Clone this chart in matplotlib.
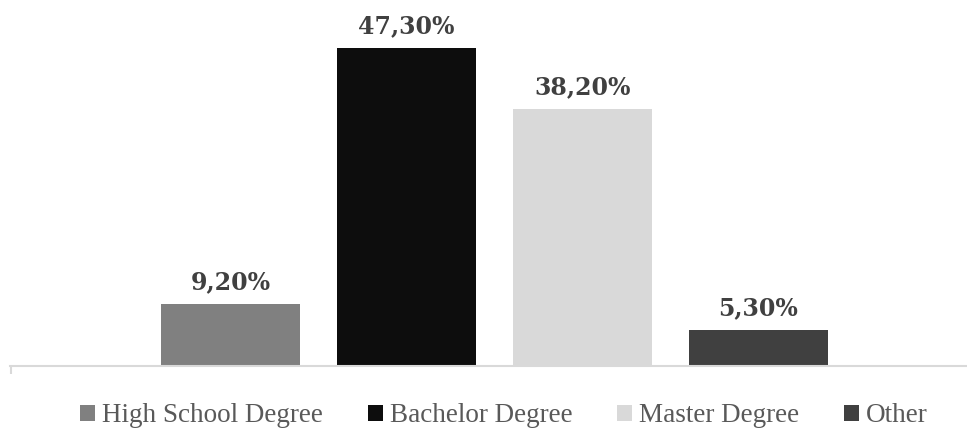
import matplotlib.pyplot as plt

# ── Data ──────────────────────────────────────────────────────────────────────
categories = ["High School Degree", "Bachelor Degree", "Master Degree", "Other"]
values     = [9.2, 47.3, 38.2, 5.3]
labels     = ["9,20%", "47,30%", "38,20%", "5,30%"]
colors     = ["#808080", "#0d0d0d", "#d9d9d9", "#404040"]

W, H = 967, 428
fig = plt.figure(figsize=(W / 100, H / 100), dpi=100)
fig.patch.set_facecolor("white")

# axes spans pixel x 10..967, baseline at y=366
ax = fig.add_axes([10 / W, (H - 366) / H, (W - 10) / W, 336 / H])
ax.set_xlim(10, 967)
ax.set_ylim(0, 50)

# one category, four series side by side
x_pos = [161 + 176 * i + 69.5 for i in range(len(values))]
bars = ax.bar(x_pos, values, width=139, color=colors, label=categories, zorder=2)

for b, lab in zip(bars, labels):
    ax.annotate(lab, (b.get_x() + b.get_width() / 2, b.get_height()),
                xytext=(0, 11), textcoords="offset points",
                ha="center", va="baseline", fontsize=17, fontweight="bold",
                family="DejaVu Serif", color="#404040")

for s in ["top", "right", "left"]:
    ax.spines[s].set_visible(False)
ax.spines["bottom"].set_color("#d9d9d9")
ax.spines["bottom"].set_linewidth(1.5)
ax.set_yticks([])
ax.set_xticks([10.5])
ax.set_xticklabels([])
ax.tick_params(axis="x", length=6, width=1.5, color="#d9d9d9")

leg = fig.legend(handles=bars, labels=categories, loc="center",
                 bbox_to_anchor=(504 / W, (H - 416) / H),
                 ncol=4, frameon=False, borderpad=0,
                 handlelength=0.55, handleheight=0.55, handletextpad=0.26,
                 columnspacing=1.65, prop={"family": "Liberation Serif", "size": 19.5})
for t in leg.get_texts():
    t.set_color("#595959")

fig.savefig("out.png", dpi=100, facecolor="white")
